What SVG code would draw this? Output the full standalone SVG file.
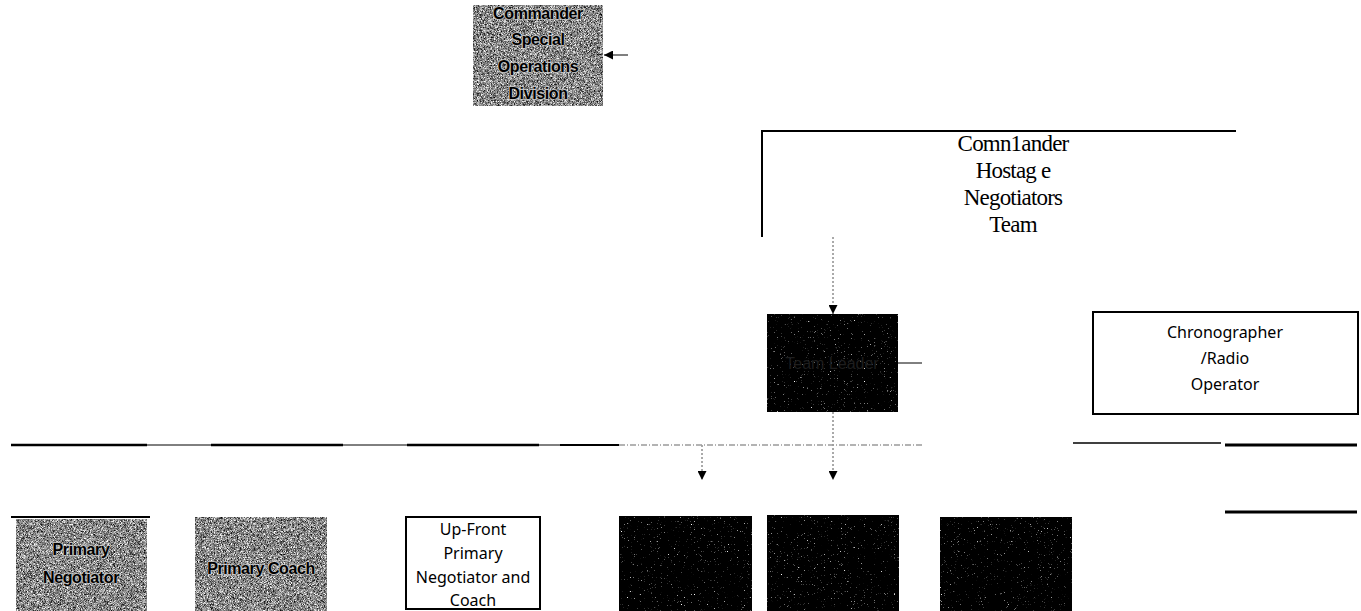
<svg xmlns="http://www.w3.org/2000/svg" width="1361" height="611" viewBox="0 0 1361 611">
<style>
.gray{fill:#8a8a8a;filter:url(#grainGray)}
.dark{fill:#050505;filter:url(#grainDark)}
.box{fill:#ffffff;stroke:#000;stroke-width:2}
.st{font-family:"Liberation Sans",Arial,sans-serif;font-size:16px;font-weight:bold;fill:#000;stroke:#c8c8c8;stroke-width:1.5;paint-order:stroke;text-anchor:middle;letter-spacing:-0.4px}
.sans{font-family:"Noto Sans","Open Sans",sans-serif;font-size:16px;fill:#000;text-anchor:middle}
.serif{font-family:"Liberation Serif","Times New Roman",serif;font-size:23px;fill:#000;text-anchor:middle;letter-spacing:-0.8px}
.ln{stroke:#000;fill:none}
.dash{stroke:#555;stroke-width:1;stroke-dasharray:2 2;fill:none}
</style>
<defs>
<filter id="grainGray" x="0" y="0" width="1" height="1" color-interpolation-filters="sRGB">
<feTurbulence type="fractalNoise" baseFrequency="1.7" numOctaves="1" seed="4" result="n"/>
<feColorMatrix in="n" type="matrix" values="1.9 0 0 0 -0.42  1.9 0 0 0 -0.42  1.9 0 0 0 -0.42  0 0 0 0 1"/>
</filter>
<filter id="grainDark" x="0" y="0" width="1" height="1" color-interpolation-filters="sRGB">
<feTurbulence type="fractalNoise" baseFrequency="1.7" numOctaves="1" seed="7" result="n"/>
<feColorMatrix in="n" type="matrix" values="6 0 0 0 -4.0  6 0 0 0 -4.0  6 0 0 0 -4.0  0 0 0 0 1"/>
</filter>
<marker id="ah" viewBox="0 0 10 10" refX="10" refY="5" markerWidth="9" markerHeight="9" markerUnits="userSpaceOnUse" orient="auto">
<path d="M0,0 L10,5 L0,10 Z" fill="#000"/>
</marker>
</defs>

<g id="connectors">
<line class="ln" x1="628" y1="55" x2="604" y2="55" stroke-width="1" marker-end="url(#ah)"/>
<path class="ln" d="M762,237 V131 H1236" stroke-width="2"/>
<line class="dash" x1="833" y1="237" x2="833" y2="314" marker-end="url(#ah)"/>
<line class="ln" x1="898" y1="363" x2="922" y2="363" stroke-width="1"/>
<line class="dash" x1="833" y1="412" x2="833" y2="480" marker-end="url(#ah)"/>
<line class="dash" x1="702" y1="445" x2="702" y2="480" marker-end="url(#ah)"/>
<line class="ln" x1="11" y1="445" x2="619" y2="445" stroke-width="1"/>
<line class="ln" x1="11" y1="445" x2="147" y2="445" stroke-width="2.5"/>
<line class="ln" x1="211" y1="445" x2="343" y2="445" stroke-width="2.5"/>
<line class="ln" x1="407" y1="445" x2="539" y2="445" stroke-width="2.5"/>
<line class="ln" x1="560" y1="445" x2="619" y2="445" stroke-width="2"/>
<line x1="619" y1="445" x2="922" y2="445" stroke="#9a9a9a" stroke-width="1.5" stroke-dasharray="6 2 1 2"/>
<line class="ln" x1="1073" y1="443" x2="1221" y2="443" stroke-width="1.5"/>
<line class="ln" x1="1225" y1="445" x2="1357" y2="445" stroke-width="3"/>
<line class="ln" x1="1225" y1="512" x2="1357" y2="512" stroke-width="3"/>
<line class="ln" x1="11" y1="517" x2="150" y2="517" stroke-width="2"/>
</g>

<g id="node-sod">
<rect class="gray" x="473" y="5" width="130" height="101"/>
<text class="st" x="538" y="19">Commander</text>
<text class="st" x="538" y="45">Special</text>
<text class="st" x="538" y="72">Operations</text>
<text class="st" x="538" y="99">Division</text>
</g>

<g id="node-hnt">
<text class="serif" x="1013" y="151">Comn1ander</text>
<text class="serif" x="1013" y="178">Hostag e</text>
<text class="serif" x="1013" y="205">Negotiators</text>
<text class="serif" x="1013" y="232">Team</text>
</g>

<g id="node-team-leader">
<rect class="dark" x="767" y="314" width="131" height="98"/>
<text x="832" y="369" font-family="Liberation Sans,Arial,sans-serif" font-size="16" fill="#1e1e1e" text-anchor="middle">Team Leader</text>
</g>

<g id="node-chronographer">
<rect class="box" x="1093" y="312" width="265" height="102" stroke-width="1.8"/>
<text class="sans" x="1225" y="338">Chronographer</text>
<text class="sans" x="1225" y="364">/Radio</text>
<text class="sans" x="1225" y="390">Operator</text>
</g>

<g id="node-primary-negotiator">
<rect class="gray" x="16" y="519" width="131" height="92"/>
<text class="st" x="81" y="555">Primary</text>
<text class="st" x="81" y="583">Negotiator</text>
</g>

<g id="node-primary-coach">
<rect class="gray" x="195" y="517" width="132" height="94"/>
<text class="st" x="261" y="574">Primary Coach</text>
</g>

<g id="node-upfront">
<rect class="box" x="406" y="517" width="134" height="92" stroke-width="1.8"/>
<text class="sans" x="473" y="535">Up-Front</text>
<text class="sans" x="473" y="559">Primary</text>
<text class="sans" x="473" y="583">Negotiator and</text>
<text class="sans" x="473" y="606">Coach</text>
</g>

<g id="node-dark-1">
<rect class="dark" x="619" y="516" width="133" height="95"/>
</g>
<g id="node-dark-2">
<rect class="dark" x="767" y="515" width="132" height="96"/>
</g>
<g id="node-dark-3">
<rect class="dark" x="940" y="517" width="132" height="94"/>
</g>
</svg>
